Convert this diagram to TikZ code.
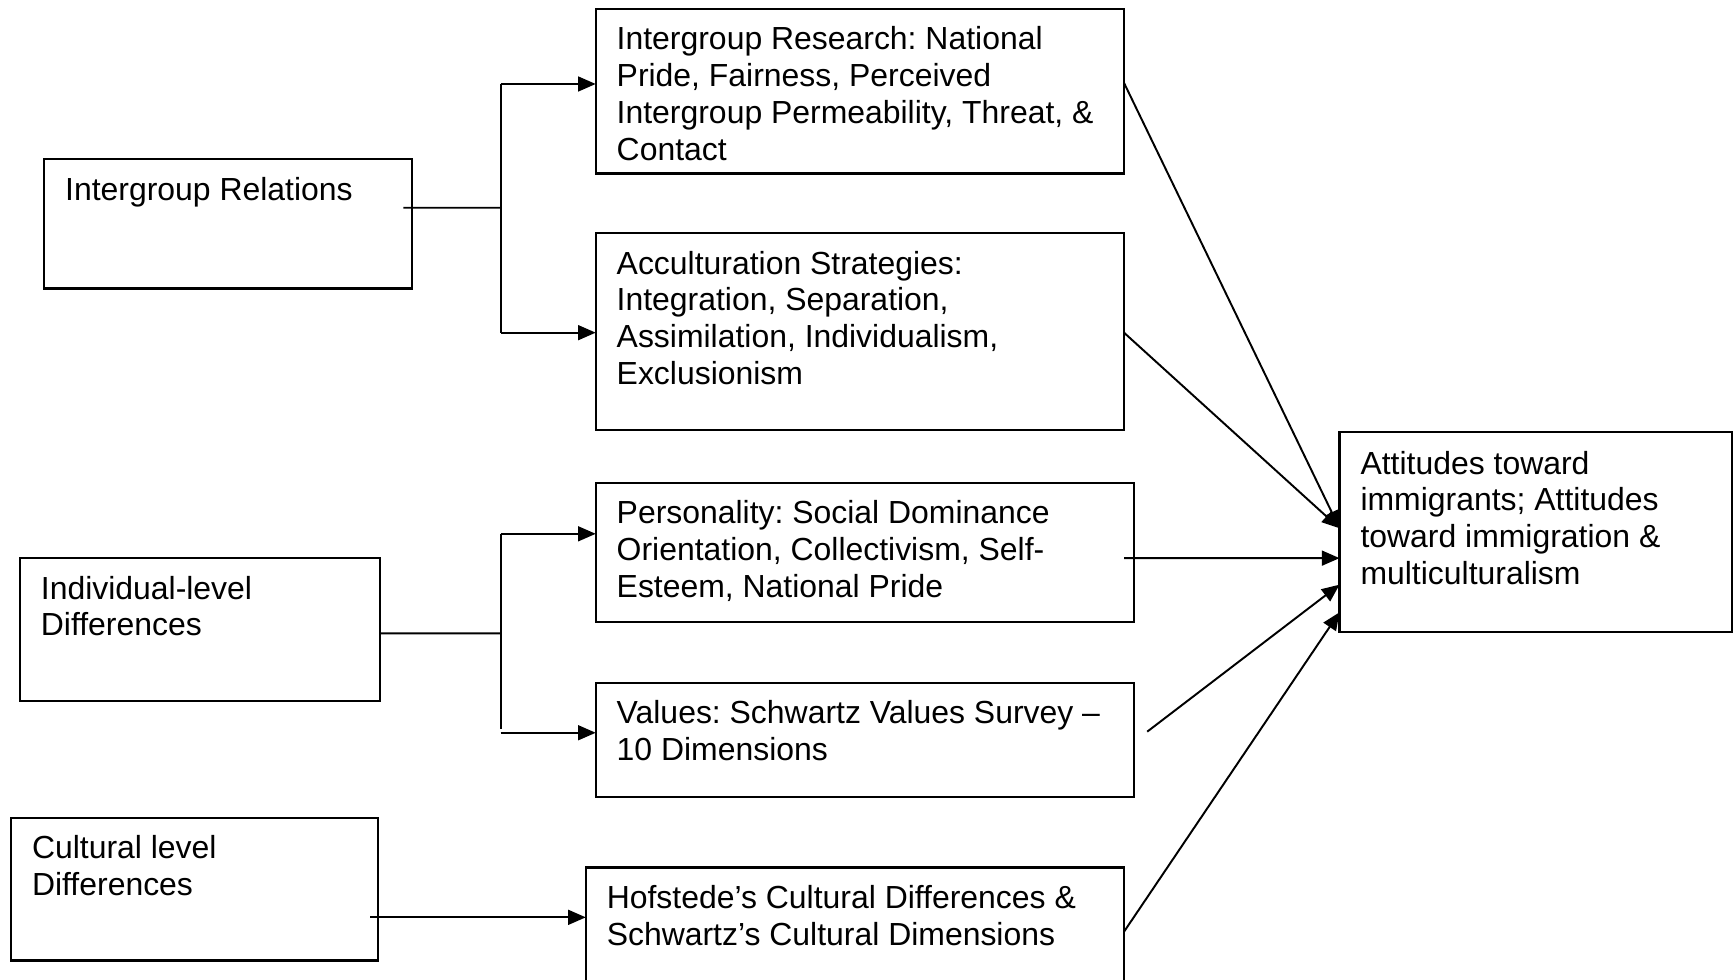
\documentclass[tikz,border=0pt]{standalone}
\usepackage{fontspec}
\setmainfont{Liberation Sans}
\usetikzlibrary{arrows.meta,fit}
% left-aligned multi-line box text; baseline = first line
\newcommand\boxlines[1]{\parbox[t]{60mm}{\raggedright\frenchspacing\fontsize{8.22pt}{9.47pt}\selectfont #1}}
\begin{document}
\begin{tikzpicture}[x=0.1mm,y=-0.1mm,
  framebox/.style={draw,line width=0.6pt,inner sep=0pt,outer sep=0pt},
  boxtext/.style={anchor=base west,inner sep=0pt,outer sep=0pt},
  link/.style={line width=0.5pt},
  arrowlink/.style={link,-{Triangle[length=1.6mm,width=1.35mm]}}]
\useasboundingbox (0,0) rectangle (1568,886);

% boxes
\node[framebox,fit={(40,144) (373,261)}]   (ir)   {};
\node[framebox,fit={(539,8) (1017,157)}]   (ires) {};
\node[framebox,fit={(539,211) (1017,389)}] (acc)  {};
\node[framebox,fit={(18,505) (344,634)}]   (ind)  {};
\node[framebox,fit={(539,437) (1026,563)}] (pers) {};
\node[framebox,fit={(539,618) (1026,721)}] (val)  {};
\node[framebox,fit={(10,740) (342,869)}]   (cul)  {};
\node[framebox,fit={(530,785) (1017,920)}] (hof)  {};
\node[framebox,fit={(1212,391) (1567,572)}] (att) {};

% box texts
\node[boxtext] (ir-t)   at ([shift={(19,37)}]ir.north west)   {\boxlines{Intergroup Relations}};
\node[boxtext] (ires-t) at ([shift={(19,37)}]ires.north west) {\boxlines{Intergroup Research: National\\Pride, Fairness, Perceived\\Intergroup Permeability, Threat, \&\\Contact}};
\node[boxtext] (acc-t)  at ([shift={(19,37)}]acc.north west)  {\boxlines{Acculturation Strategies:\\Integration, Separation,\\Assimilation, Individualism,\\Exclusionism}};
\node[boxtext] (ind-t)  at ([shift={(19,37)}]ind.north west)  {\boxlines{Individual-level\\Differences}};
\node[boxtext] (pers-t) at ([shift={(19,37)}]pers.north west) {\boxlines{Personality: Social Dominance\\Orientation, Collectivism, Self-\\Esteem, National Pride}};
\node[boxtext] (val-t)  at ([shift={(19,37)}]val.north west)  {\boxlines{Values: Schwartz Values Survey –\\10 Dimensions}};
\node[boxtext] (cul-t)  at ([shift={(19,37)}]cul.north west)  {\boxlines{Cultural level\\Differences}};
\node[boxtext] (hof-t)  at ([shift={(19,37)}]hof.north west)  {\boxlines{Hofstede’s Cultural Differences \&\\Schwartz’s Cultural Dimensions}};
\node[boxtext] (att-t)  at ([shift={(19,38)}]att.north west)  {\boxlines{Attitudes toward\\immigrants; Attitudes\\toward immigration \&\\multiculturalism}};

% branching from Intergroup Relations
\coordinate (ir-out) at ([shift={(-8,44)}]ir.north east);
\coordinate (ir-j)   at (453,188);
\coordinate (ir-up)  at (453,76);
\coordinate (ir-dn)  at (453,301);
\draw[link] (ir-out) -- (ir-j);
\draw[link] (ir-up) -- (ir-dn);
\draw[arrowlink] (ir-up) -- (ir-up -| ires.west);
\draw[arrowlink] (ir-dn) -- (ir-dn -| acc.west);

% branching from Individual-level Differences
\coordinate (ind-out) at ([shift={(0,68)}]ind.north east);
\coordinate (ind-j)   at (453,573);
\coordinate (ind-up)  at (453,483);
\coordinate (ind-end) at (453,660);
\coordinate (ind-dn)  at (453,663);
\draw[link] (ind-out) -- (ind-j);
\draw[link] (ind-up) -- (ind-end);
\draw[arrowlink] (ind-up) -- (ind-up -| pers.west);
\draw[arrowlink] (ind-dn) -- (ind-dn -| val.west);

% Cultural level Differences
\coordinate (cul-out) at ([shift={(-7,90)}]cul.north east);
\draw[arrowlink] (cul-out) -- (cul-out -| hof.west);

% paths into the attitudes box
\draw[arrowlink] ([shift={(0,67)}]ires.north east)  -- ([shift={(0,87)}]att.north west);
\draw[arrowlink] ([shift={(0,90)}]acc.north east)   -- ([shift={(0,87)}]att.north west);
\draw[arrowlink] ([shift={(-9,68)}]pers.north east) -- ([shift={(0,114)}]att.north west);
\draw[arrowlink] ([shift={(12,44)}]val.north east)  -- ([shift={(0,138)}]att.north west);
\draw[arrowlink] ([shift={(0,58)}]hof.north east)   -- ([shift={(0,163)}]att.north west);
\end{tikzpicture}
\end{document}
